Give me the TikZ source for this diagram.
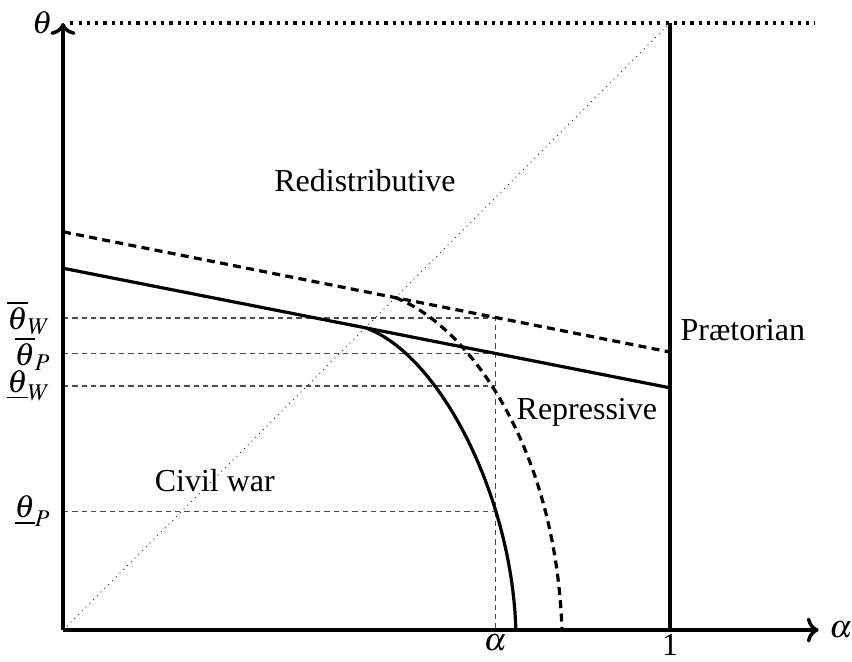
\documentclass[tikz,border=0pt]{standalone}
\usepackage{mathptmx}
\usepackage{fontspec}
\setmainfont{Liberation Serif}
\usetikzlibrary{arrows.meta}

\begin{document}
\begin{tikzpicture}[x=8cm,y=8cm,font=\fontsize{12}{14}\selectfont]
  \tikzstyle{axis}=[line width=1.3pt]
  \tikzstyle{border}=[line width=1.2pt]
  \tikzstyle{guide}=[black!70,line width=0.4pt,dash pattern=on 2pt off 1.5pt]
  \tikzstyle{tick}=[left=1pt,text=black]
  \useasboundingbox (-0.1038,-0.0511) rectangle (1.2998,1.0379);
  \coordinate (O) at (0,0);
  \coordinate (alpha) at (0.712,0);
  \coordinate (one) at (1,0);
  % diagonal and top bound
  \draw[line width=0.3pt,black!80,dash pattern=on 0.4pt off 1.6pt] (O) -- (1,1);
  \draw[line width=1.2pt,dash pattern=on 1.2pt off 1.9pt] (0.012,1) -- (1.239,1);
  % guides at alpha
  \draw[guide] (0,0.514) node[tick] (tWbar) {$\overline{\theta}_W$} -| (alpha);
  \draw[guide] (0,0.455) node[tick] (tPbar) {$\overline{\theta}_P$} -- (0.712,0.455);
  \draw[guide] (0,0.402) node[tick] (tWund) {$\underline{\theta}_W$} -- (0.712,0.402);
  \draw[guide] (0,0.196) node[tick] (tPund) {$\underline{\theta}_P$} -- (0.712,0.196);
  % boundaries
  \draw[border,dash pattern=on 3pt off 2pt] (0,0.656) -- (1,0.458);
  \draw[border] (0,0.596) -- (1,0.399);
  \draw[border] (0.498,0.498) .. controls (0.62,0.455) and (0.740,0.22) .. (0.746,0);
  \draw[border,dash pattern=on 3pt off 2pt] (0.5476,0.5476) .. controls (0.67,0.50) and (0.812,0.30) .. (0.822,0);
  \draw[border] (one) -- (1,1);
  % axes
  \draw[axis,->] (O) -- (1.245,0) node[right] (xlab) {$\alpha$};
  \draw[axis,->] (O) -- (0,1) node[left] (ylab) {$\theta$};
  \node[below,inner sep=1.5pt] (alab) at (alpha) {$\alpha$};
  \node[below,inner sep=1.5pt] (onelab) at (one) {1};
  % regions
  \node (redist) at (0.4975,0.741) {Redistributive};
  \node (praet) at (1.120,0.494) {Prætorian};
  \node (repr) at (0.863,0.359) {Repressive};
  \node (civil) at (0.250,0.247) {Civil war};
\end{tikzpicture}
\end{document}
